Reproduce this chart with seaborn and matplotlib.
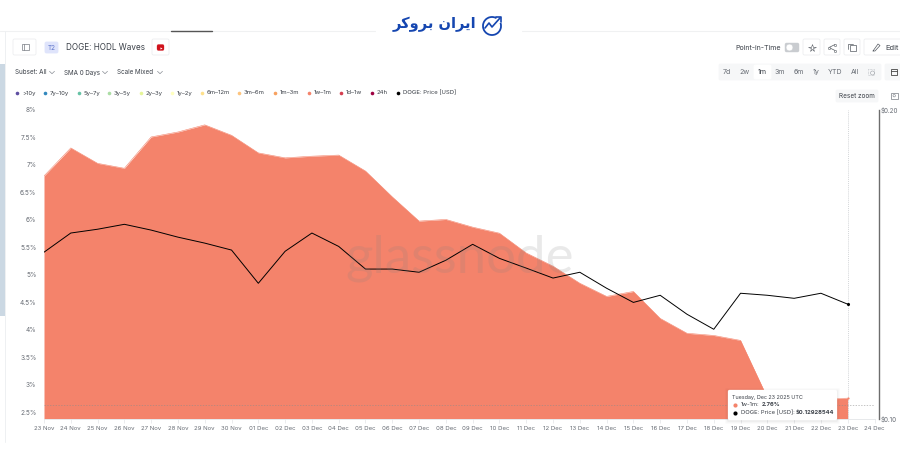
import matplotlib
matplotlib.use("Agg")
import matplotlib.pyplot as plt
import matplotlib.ticker as mticker
from matplotlib.patches import Circle, FancyBboxPatch, Rectangle, Arc
import pandas as pd
import seaborn as sns

dates = pd.date_range("2025-11-23", "2025-12-23", freq="D")
wave_1w_1m = [6.80, 7.31, 7.03, 6.94, 7.51, 7.60, 7.73, 7.54, 7.22, 7.13, 7.16,
              7.18, 6.89, 6.42, 5.98, 6.01, 5.87, 5.76, 5.40, 5.16, 4.85, 4.61,
              4.70, 4.21, 3.94, 3.90, 3.81, 2.77, 2.74, 2.74, 2.76]
doge_price = [0.1453, 0.1517, 0.1530, 0.1547, 0.1527, 0.1503, 0.1483, 0.1460,
              0.1355, 0.1456, 0.1517, 0.1472, 0.1399, 0.1399, 0.1389, 0.1427,
              0.1479, 0.1433, 0.1402, 0.1371, 0.1389, 0.1340, 0.1298, 0.1319,
              0.1264, 0.1222, 0.1325, 0.1319, 0.1310, 0.1325, 0.12928544]

pct_ticks = [2.5, 3, 3.5, 4, 4.5, 5, 5.5, 6, 6.5, 7, 7.5, 8]
price_ticks = [0.10, 0.20]

legend_names = [">10y", "7y–10y", "5y–7y", "3y–5y", "2y–3y", "1y–2y", "6m–12m",
                "3m–6m", "1m–3m", "1w–1m", "1d–1w", "24h", "DOGE: Price [USD]"]
legend_colors = ["#5e4fa2", "#3288bd", "#66c2a5", "#abdda4", "#e6f598", "#ffffbf",
                 "#fee08b", "#fdc47d", "#f7a15f", "#f4836b", "#d53e4f", "#9e0142",
                 "#000000"]
legend_x = [17, 45, 79, 109, 141, 172, 202, 239, 275, 309, 341, 372, 398]

range_names = ["7d", "2w", "1m", "3m", "6m", "1y", "YTD", "All"]
range_x = [727, 744, 762, 780, 799, 816, 835, 855]

AREA = "#f4836b"
GREY = "#666b73"
DARK = "#3b4048"
BLUE = "#1546b0"

sns.set_theme(style="white")
plt.rcParams["font.family"] = ["Inter", "DejaVu Sans"]

df = pd.DataFrame({"date": dates, "wave": wave_1w_1m, "price": doge_price})

fig = plt.figure(figsize=(9, 4.71), dpi=100)
ax = fig.add_axes([44 / 900, 1 - 418.5 / 471, (874.5 - 44) / 900, 308.5 / 471])

# area on the left axis
ax.fill_between(df["date"], df["wave"], 2.39, color=AREA, linewidth=0)
sns.lineplot(data=df, x="date", y="wave", color=AREA, linewidth=0.4, ax=ax)
ax.scatter(df["date"].iloc[-1], df["wave"].iloc[-1], s=2.5, color=AREA, linewidth=0, zorder=4)
ax.set_xlim(pd.Timestamp("2025-11-23"), pd.Timestamp("2025-12-24"))
ax.set_ylim(2.39, 8)
ax.set_yticks(pct_ticks)
ax.yaxis.set_major_formatter(mticker.FuncFormatter(lambda v, _: f"{v:g}%"))
tick_dates = pd.date_range("2025-11-23", "2025-12-24", freq="D")
ax.set_xticks(tick_dates)
ax.set_xticklabels([d.strftime("%d %b") for d in tick_dates])
ax.tick_params(axis="y", length=0, labelsize=4.7, labelcolor=GREY, pad=5.5)
ax.tick_params(axis="x", length=3, width=0.5, color="#e3e5e8", bottom=True,
               labelsize=4.35, labelcolor=GREY, pad=2.5)
ax.set_xlabel("")
ax.set_ylabel("")
for side in ["top", "right", "left"]:
    ax.spines[side].set_visible(False)
ax.spines["bottom"].set_color("#e3e5e8")
ax.spines["bottom"].set_linewidth(0.6)

# crosshair at the hovered date
ax.axhline(2.63, color="#8a8a8a", linewidth=0.5, linestyle=(0, (2, 2)), alpha=0.7)
ax.axvline(dates[-1], color="#c4c7cb", linewidth=0.5, linestyle=(0, (1.5, 1.5)))

# price on the right log axis
ax2 = ax.twinx()
sns.lineplot(data=df, x="date", y="price", color="black", linewidth=0.7, ax=ax2)
ax2.scatter(df["date"].iloc[-1], df["price"].iloc[-1], s=5, color="black", linewidth=0, zorder=4)
ax2.set_yscale("log")
ax2.set_ylim(0.10, 0.20)
ax2.set_yticks(price_ticks)
ax2.set_yticklabels([f"${p:.2f}" for p in price_ticks])
ax2.yaxis.set_minor_locator(mticker.NullLocator())
ax2.tick_params(axis="y", length=0, labelsize=4.5, labelcolor=GREY, pad=1.5)
ax2.set_xlabel("")
ax2.set_ylabel("")
for side in ["top", "left", "bottom"]:
    ax2.spines[side].set_visible(False)
ax2.spines["right"].set_position(("outward", 3.1))
ax2.spines["right"].set_color("#6d6d6d")
ax2.spines["right"].set_linewidth(1.0)

# page chrome, drawn in pixel coordinates
ui = fig.add_axes([0, 0, 1, 1], zorder=10)
ui.set_xlim(0, 900)
ui.set_ylim(471, 0)
ui.axis("off")
ui.patch.set_alpha(0)


def label(x, y, s, size=4.7, color=DARK, ha="left", weight="normal", **kw):
    ui.text(x, y, s, fontsize=size, color=color, ha=ha, va="center", fontweight=weight, **kw)


def box(x0, y0, x1, y1, face="white", edge="#eceef0", lw=0.6, z=2):
    ui.add_patch(FancyBboxPatch((x0 + 1, y0 + 1), x1 - x0 - 2, y1 - y0 - 2,
                                boxstyle="round,pad=1,rounding_size=1.5",
                                facecolor=face, edgecolor=edge, linewidth=lw, zorder=z))


def chevron(x, y):
    ui.plot([x - 2.5, x, x + 2.5], [y - 1.2, y + 1.2, y - 1.2], color="#8b9097", linewidth=0.5)


# watermark
ui.text(460, 258, "glassnode", fontsize=38, color="#808080", alpha=0.17, ha="center",
        va="center", family="Lato", zorder=1)

# top rule, scroll bar, left border
ui.plot([0, 375], [30.5, 30.5], color="#f0f1f2", linewidth=0.8)
ui.plot([522, 900], [30.5, 30.5], color="#f0f1f2", linewidth=0.8)
ui.plot([171, 212], [30.5, 30.5], color="#555555", linewidth=1)
ui.plot([5, 5], [31, 442], color="#eef0f2", linewidth=0.7)
ui.add_patch(Rectangle((0, 64), 4.5, 252, facecolor="#cbd8e3", edgecolor="none"))

# logo
ui.text(434.5, 24, "\ufeae\ufb90\ufeed\ufeae\ufe91 \ufee5\ufe8d\ufeae\ufbfe\ufe8d", fontsize=10.5,
        color=BLUE, ha="center", va="center", family="DejaVu Sans", fontweight="bold")
ui.add_patch(Arc((492, 26), 18, 18, theta1=-20, theta2=300, color=BLUE, linewidth=1.3))
ui.plot([485, 489, 492, 500], [28, 23, 27, 18], color=BLUE, linewidth=1.2)
ui.plot([496, 501, 501], [17, 17, 22], color=BLUE, linewidth=1.2)

# title row
box(13, 39, 36, 55)
ui.add_patch(Rectangle((21.5, 44), 7, 6, fill=False, edgecolor="#777c83", linewidth=0.5, zorder=3))
ui.plot([24, 24], [44, 50], color="#777c83", linewidth=0.5, zorder=3)
box(45, 42, 58, 53, face="#dfe4fb", edge="#dfe4fb")
label(51.5, 47.5, "T2", size=4.6, color="#5b72c9", ha="center", zorder=3)
label(66, 47.5, "DOGE: HODL Waves", size=5.85)
box(152, 39, 169, 55)
box(157, 44.5, 164, 50.5, face="#d0121b", edge="#d0121b", lw=0.2, z=3)
ui.plot(160.5, 47.5, marker=">", markersize=1.5, color="white", markeredgewidth=0, zorder=4)

# filter row
for x, s, cx in [(15, "Subset: All", 52), (64, "SMA 0 Days", 105), (117, "Scale Mixed", 160)]:
    label(x, 72.5, s, size=4.5)
    chevron(cx, 72.5)

# legend
for x, name, color in zip(legend_x, legend_names, legend_colors):
    ui.plot(x, 93, marker="o", markersize=2.6, color=color, markeredgewidth=0)
    label(x + 5, 93, name, size=4.3)

# right controls
label(735, 47.5, "Point-in-Time", size=5.1)
box(785, 43, 799, 52, face="#c9ccd0", edge="#c9ccd0", lw=0.3)
ui.add_patch(Circle((789.5, 47.5), 3.4, facecolor="white", edgecolor="#c9ccd0", linewidth=0.3, zorder=3))
box(803, 39, 820, 55)
box(824, 39, 840, 55)
box(844, 39, 860, 55)
box(864, 39, 905, 55)
ui.plot(811.5, 47.5, marker="*", markersize=5.5, markerfacecolor="none",
        markeredgecolor="#555a61", markeredgewidth=0.4, zorder=4)
ui.plot([835, 829, 835], [44.5, 47.5, 50.5], color="#555a61", linewidth=0.5, marker="o",
        markersize=1.6, markerfacecolor="white", markeredgewidth=0.4, zorder=4)
ui.add_patch(Rectangle((850, 45), 6, 6, fill=False, edgecolor="#555a61", linewidth=0.5, zorder=4))
ui.plot([848, 848, 853], [49, 43.5, 43.5], color="#555a61", linewidth=0.5, zorder=4)
ui.plot([873, 878, 880, 875, 873, 873], [51, 44, 45.5, 51, 51, 51], color="#555a61", linewidth=0.5, zorder=4)
label(885, 47.5, "Edit", size=5.4, zorder=4)

# range selector
box(719, 64, 881, 80, face="#f6f7f8", edge="#f6f7f8")
box(754, 65, 771, 79, face="white", edge="white", z=3)
for x, name in zip(range_x, range_names):
    label(x, 72, name, size=5.1, ha="center", color=DARK if name == "1m" else GREY, zorder=4)
ui.add_patch(Rectangle((868, 68.5), 6, 6, fill=False, edgecolor="#b9bdc2", linewidth=0.5,
                       linestyle=(0, (1, 1)), zorder=4))
ui.add_patch(Circle((872.5, 73), 2, fill=False, edgecolor="#9ba0a6", linewidth=0.4, zorder=4))
box(885, 64, 905, 80, face="#f6f7f8", edge="#f6f7f8")
ui.add_patch(Rectangle((891, 68.5), 6, 6.5, fill=False, edgecolor="#444", linewidth=0.6, zorder=4))
ui.plot([891, 897], [70.5, 70.5], color="#444", linewidth=0.6, zorder=4)

# reset zoom and camera
box(836, 90, 878, 102, face="#f6f7f8", edge="#f6f7f8")
label(857, 96, "Reset zoom", size=4.6, ha="center", zorder=4)
ui.add_patch(Rectangle((891, 93), 6.5, 5.5, fill=False, edgecolor="#777c83", linewidth=0.5))
ui.add_patch(Circle((894.2, 95.7), 1.2, fill=False, edgecolor="#777c83", linewidth=0.4))

# tooltip
for pad, alpha in [(3, 0.015), (2, 0.02), (1, 0.03)]:
    box(728 - pad, 390 - pad + 1, 837 + pad, 420 + pad + 1, face="black", edge="none", lw=0, z=5)
    ui.patches[-1].set_alpha(alpha)
box(728, 390, 837, 420, face="white", edge="white", lw=0.2, z=6)
label(732, 397, "Tuesday, Dec 23 2025 UTC", size=3.9, zorder=7)
ui.plot(735, 405, marker="o", markersize=3, color=AREA, markeredgewidth=0, zorder=7)
label(741, 405, "1w-1m:", size=4.2, zorder=7)
label(761.5, 405, "2.76%", size=4.2, weight="bold", zorder=7)
ui.plot(735, 412.5, marker="o", markersize=3, color="black", markeredgewidth=0, zorder=7)
label(741, 412.5, "DOGE: Price [USD]:", size=4.2, zorder=7)
label(796, 412.5, "$0.12928544", size=4.2, weight="bold", zorder=7)

fig.savefig("out.png", dpi=100, facecolor="white")
